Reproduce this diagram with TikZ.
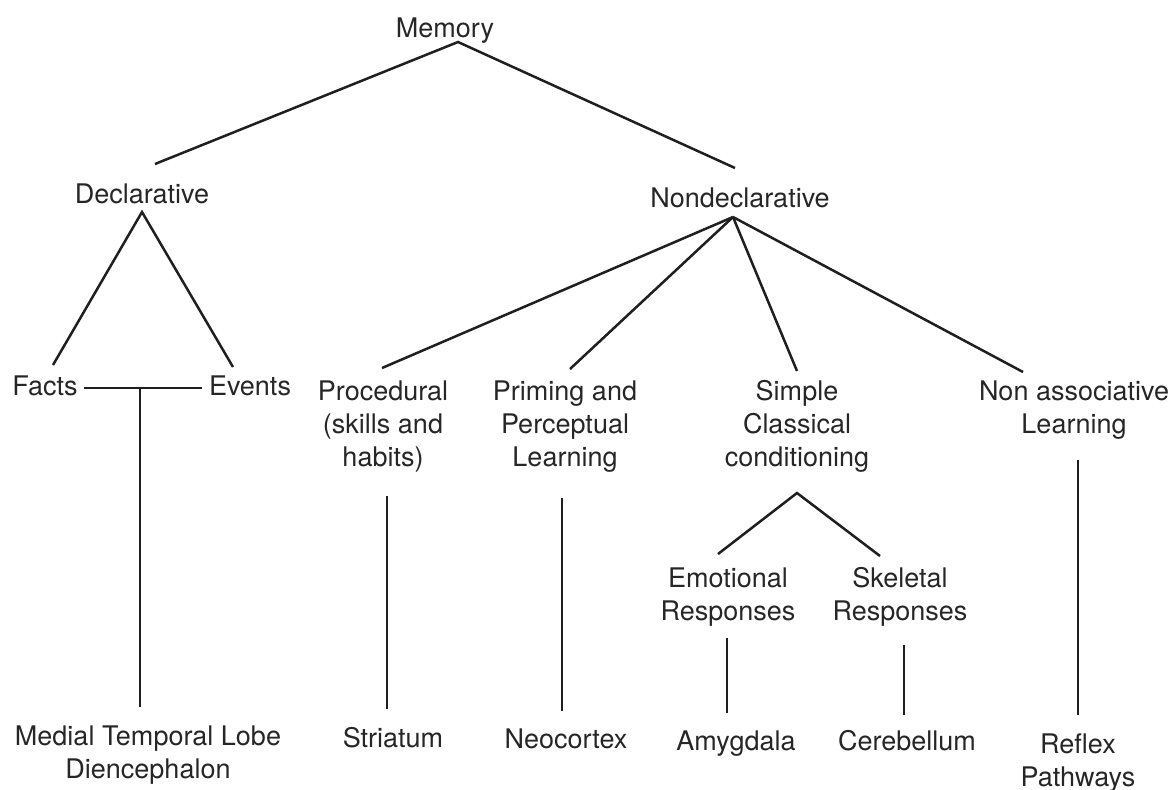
\documentclass[tikz,border=0pt]{standalone}
\usepackage{fontspec}
\setmainfont{TeX Gyre Heros}
\begin{document}
\begin{tikzpicture}[x=0.5pt,y=-0.5pt,
  tx/.style={anchor=north, inner sep=0pt, align=center, text=black!85,
    font=\fontsize{13.5}{16.5}\selectfont},
  ln/.style={draw=black!88, line width=1.25pt}]
\useasboundingbox (0,0) rectangle (1172,789);
% nodes (placed by top edge)
\node[tx] (mem) at (445,17) {Memory};
\node[tx] (decl) at (142,183) {Declarative};
\node[tx] (nondecl) at (740,187) {Nondeclarative};
\node[tx] (facts) at (45,375) {Facts};
\node[tx] (events) at (250,375) {Events};
\node[tx] (proc) at (383,380) {Procedural\\(skills and\\habits)};
\node[tx] (prim) at (565,380) {Priming and\\Perceptual\\Learning};
\node[tx] (simple) at (797,380) {Simple\\Classical\\conditioning};
\node[tx] (nonassoc) at (1074,380) {Non associative\\Learning};
\node[tx] (emo) at (728,567) {Emotional\\Responses};
\node[tx] (skel) at (900,567) {Skeletal\\Responses};
\node[tx] (med) at (148,725) {Medial Temporal Lobe\\Diencephalon};
\node[tx] (stri) at (393,727) {Striatum};
\node[tx] (neo) at (566,728) {Neocortex};
\node[tx] (amy) at (736,730) {Amygdala};
\node[tx] (cer) at (907,730) {Cerebellum};
\node[tx] (refl) at (1078,733) {Reflex\\Pathways};
% connectors
\draw[ln] ([shift={(13,-19)}]decl.north) -- ([shift={(13,25)}]mem.north) -- ([shift={(-5,-19)}]nondecl.north);
\draw[ln] ([shift={(8,-10)}]facts.north) -- ([shift={(0,29)}]decl.north) -- ([shift={(-17,-8)}]events.north);
\draw[ln] ([shift={(39,13)}]facts.north) -- ([shift={(-48,13)}]events.north);
\draw[ln] ([shift={(95,13)}]facts.north) -- ([shift={(-8,-18)}]med.north);
\draw[ln] ([shift={(-7,30)}]nondecl.north) -- ([shift={(-1,-12)}]proc.north);
\draw[ln] ([shift={(-7,30)}]nondecl.north) -- ([shift={(5,-11)}]prim.north);
\draw[ln] ([shift={(-7,30)}]nondecl.north) -- ([shift={(0,-9)}]simple.north);
\draw[ln] ([shift={(-7,30)}]nondecl.north) -- ([shift={(-51,-8)}]nonassoc.north);
\draw[ln] ([shift={(4,116)}]proc.north) -- ([shift={(-6,-18)}]stri.north);
\draw[ln] ([shift={(-3,118)}]prim.north) -- ([shift={(-4,-17)}]neo.north);
\draw[ln] ([shift={(-10,-13)}]emo.north) -- ([shift={(0,113)}]simple.north) -- ([shift={(-20,-11)}]skel.north);
\draw[ln] ([shift={(-1,71)}]emo.north) -- ([shift={(-9,-17)}]amy.north);
\draw[ln] ([shift={(4,78)}]skel.north) -- ([shift={(-3,-15)}]cer.north);
\draw[ln] ([shift={(4,80)}]nonassoc.north) -- ([shift={(0,-18)}]refl.north);
\end{tikzpicture}
\end{document}
